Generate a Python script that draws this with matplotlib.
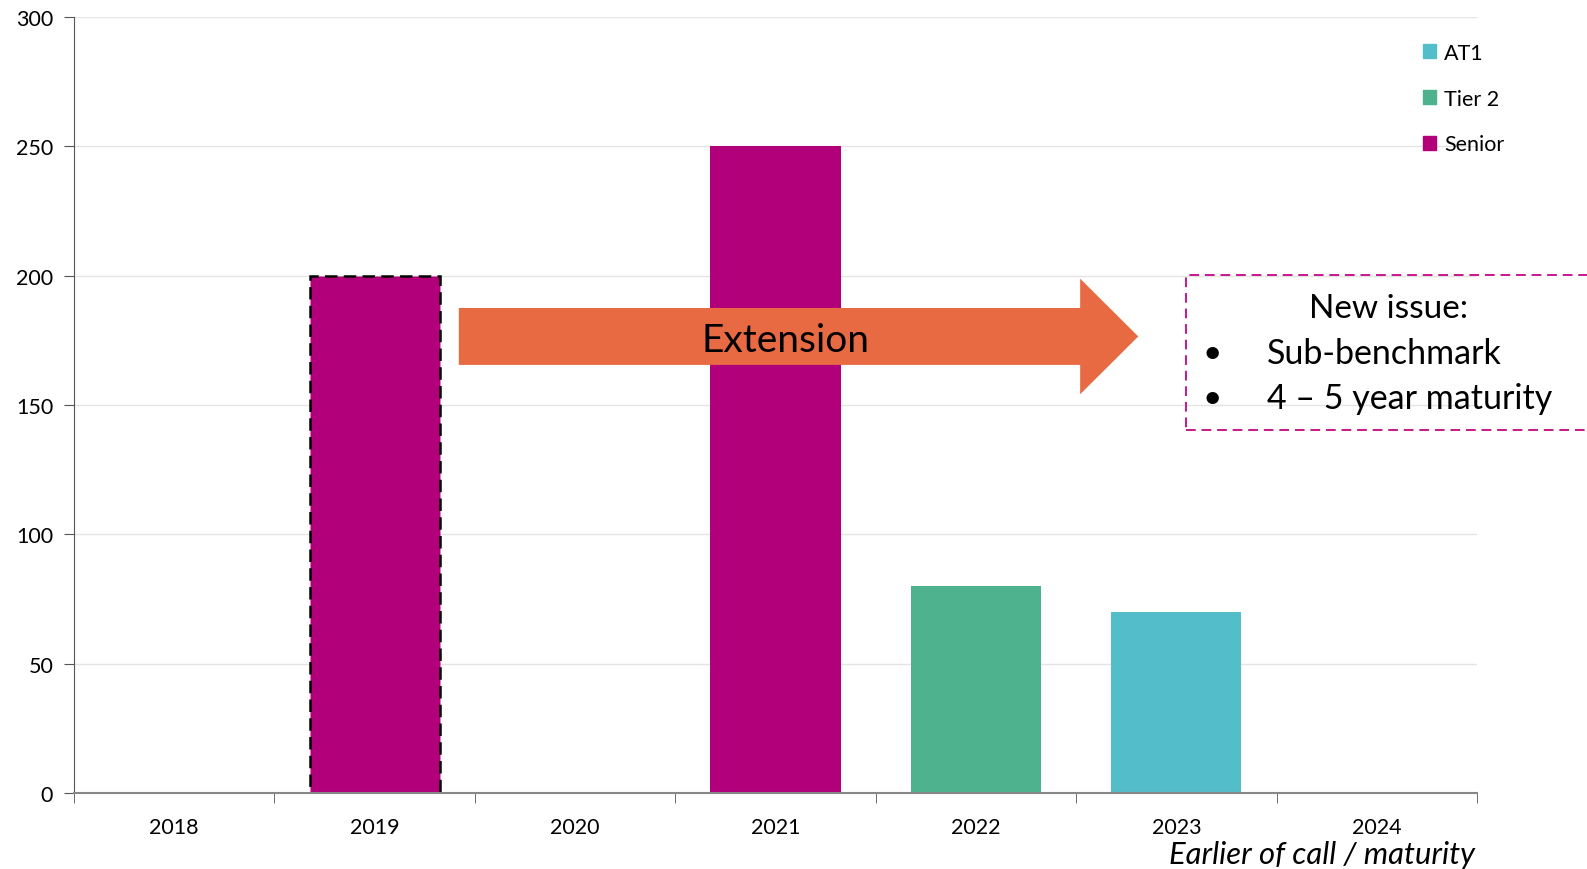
import matplotlib
matplotlib.use('Agg')

import matplotlib.pyplot as plt
import matplotlib.patches as mpatches
import numpy as np

years = ['2018', '2019', '2020', '2021', '2022', '2023', '2024']
senior = [0, 200, 0, 250, 0, 0, 0]
tier2 = [0, 0, 0, 0, 80, 0, 0]
at1 = [0, 0, 0, 0, 0, 70, 0]

c_senior = '#B2007A'
c_tier2 = '#4DB28D'
c_at1 = '#53BDC9'
c_arrow = '#E86A43'

plt.rcParams['font.family'] = ['Lato', 'DejaVu Sans']

fig = plt.figure(figsize=(15.87, 8.7), dpi=100)
ax = fig.add_axes([74 / 1587, 1 - 794 / 870, (1477 - 74) / 1587, (794 - 18) / 870])

x = np.arange(len(years))
senior = np.array(senior)
tier2 = np.array(tier2)
at1 = np.array(at1)

bars = ax.bar(x, senior, width=0.65, color=c_senior, zorder=2)
ax.bar(x, tier2, width=0.65, bottom=senior, color=c_tier2, zorder=2)
ax.bar(x, at1, width=0.65, bottom=senior + tier2, color=c_at1, zorder=2)

# the 2019 bar gets a dashed outline
b = bars[1]
b.set_edgecolor('black')
b.set_linestyle((0, (5, 2.5)))
b.set_linewidth(1.8)

ax.set_xlim(-0.5, len(years) - 0.5)
ax.set_ylim(0, 300)
ax.set_yticks(np.arange(0, 301, 50))
ax.set_xticks(x)
ax.set_xticklabels(years, fontsize=15.5)
ax.set_xticks(np.arange(-0.5, len(years), 1), minor=True)
ax.tick_params(axis='x', which='major', length=0, pad=17)
ax.tick_params(axis='x', which='minor', length=7, color='#555555')
ax.tick_params(axis='y', length=7, color='#555555', labelsize=15.5, pad=8)
ax.grid(axis='y', color='#e4e4e4', linewidth=1, zorder=0)
for s in ['top', 'right']:
    ax.spines[s].set_visible(False)
ax.spines['bottom'].set_color('#888888')
ax.spines['bottom'].set_linewidth(1.5)
ax.spines['left'].set_color('#555555')

fig.text(1475 / 1587, 1 - 855 / 870, 'Earlier of call / maturity', fontsize=22.3,
         style='italic', ha='right', va='center')

arrow = mpatches.FancyArrow(1.42, 176.5, 4.81 - 1.42, 0, width=22, head_width=44.7,
                            head_length=0.29, length_includes_head=True,
                            color=c_arrow, linewidth=0, zorder=3)
ax.add_patch(arrow)
ax.text(3.05, 175, 'Extension', fontsize=28, ha='center', va='center', zorder=4)

box = mpatches.Rectangle((5.05, 140.3), 3.0, 60, fill=False, edgecolor='#C8168C',
                         linestyle=(0, (5, 3)), linewidth=1.4, clip_on=False, zorder=4)
ax.add_patch(box)
fig.text(1389 / 1587, 1 - 309 / 870, 'New issue:', fontsize=24, ha='center', va='center')
for yy, line in [(354, 'Sub-benchmark'), (399, '4 – 5 year maturity')]:
    fig.text(1212 / 1587, 1 - yy / 870, '•', fontsize=24, ha='center', va='center')
    fig.text(1267 / 1587, 1 - yy / 870, line, fontsize=24.5, ha='left', va='center')

handles = [mpatches.Patch(color=c_at1, label='AT1'),
           mpatches.Patch(color=c_tier2, label='Tier 2'),
           mpatches.Patch(color=c_senior, label='Senior')]
ax.legend(handles=handles, loc='upper left', bbox_to_anchor=(1412 / 1587, 1 - 33 / 870),
          bbox_transform=fig.transFigure, frameon=False, fontsize=15.5,
          handlelength=0.6, handleheight=0.6, handletextpad=0.4, labelspacing=1.2,
          borderpad=0)

fig.savefig('out.png', dpi=100)
